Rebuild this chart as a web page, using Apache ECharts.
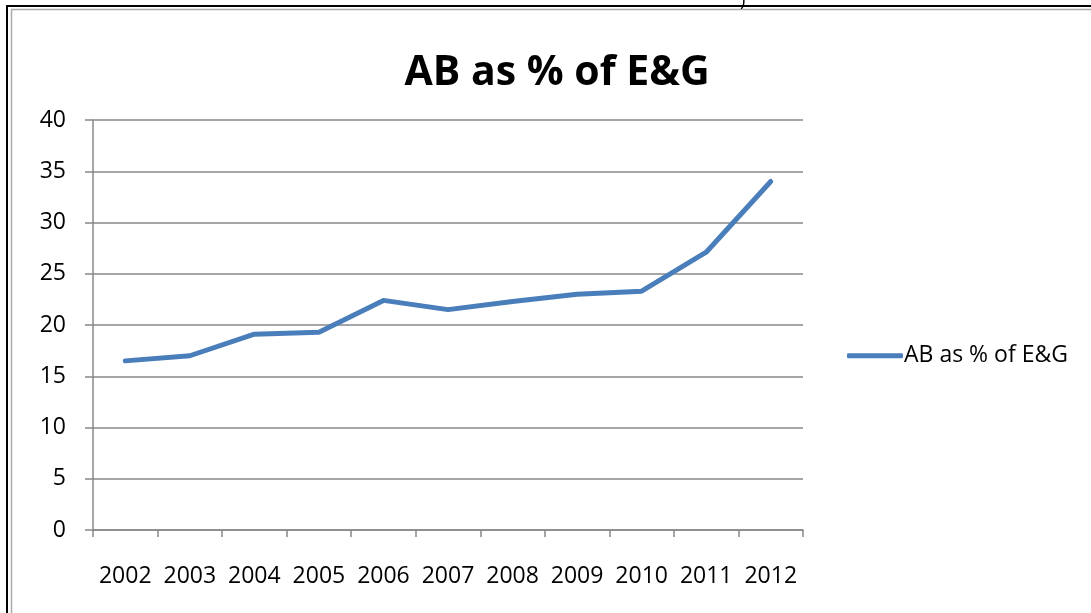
<!DOCTYPE html>
<html>
<head>
    <title>AB as % of E&amp;G</title>
    <script src="https://cdn.jsdelivr.net/npm/echarts@6/dist/echarts.min.js"></script>
    <style>
        html, body { margin: 0; padding: 0; background: #fff; }
        #main { width: 1091px; height: 613px; }
    </style>
</head>
<body>
    <div id="main"></div>

    <script>
        const years = ['2002', '2003', '2004', '2005', '2006', '2007', '2008', '2009', '2010', '2011', '2012'];
        const abPercent = [16.5, 17.0, 19.1, 19.3, 22.4, 21.5, 22.3, 23.0, 23.3, 27.1, 34.0];
        const seriesName = 'AB as % of E&G';

        const font = 'Open Sans, Liberation Sans, sans-serif';

        const chart = echarts.init(document.getElementById('main'));
        chart.setOption({
            animation: false,
            title: {
                text: 'AB as % of E&G',
                left: 552,
                textAlign: 'center',
                top: 30,
                textStyle: { fontFamily: font, fontSize: 41, fontWeight: 'bold', color: '#000' }
            },
            legend: {
                data: [seriesName],
                left: 842,
                top: 332,
                itemWidth: 56,
                itemHeight: 5,
                itemGap: 4,
                icon: 'roundRect',
                textStyle: { fontFamily: font, fontSize: 23, color: '#000', padding: [0, 0, 0, -4] }
            },
            grid: { left: 93, right: 288, top: 120, bottom: 83 },
            xAxis: {
                type: 'category',
                data: years,
                boundaryGap: true,
                axisLine: { lineStyle: { color: '#888', width: 1.5 } },
                axisTick: { show: true, interval: 0, length: 7, alignWithLabel: false, lineStyle: { color: '#888', width: 1.5 } },
                axisLabel: { interval: 0, hideOverlap: false, fontFamily: font, fontSize: 23, color: '#000', margin: 28 }
            },
            yAxis: {
                type: 'value',
                min: 0,
                max: 40,
                interval: 5,
                axisLine: { show: true, lineStyle: { color: '#888', width: 1.5 } },
                axisTick: { show: true, length: 8, lineStyle: { color: '#888', width: 1.5 } },
                axisLabel: { fontFamily: font, fontSize: 23, color: '#000', margin: 27 },
                splitLine: { lineStyle: { color: '#888', width: 1.5 } }
            },
            series: [{
                name: seriesName,
                type: 'line',
                data: abPercent,
                symbol: 'none',
                color: '#4A7EBB',
                lineStyle: { width: 5, color: '#4A7EBB', cap: 'round', join: 'round' }
            }],
            graphic: [
                { type: 'polyline', shape: { points: [[7, 613], [7, 6], [1091, 6]] }, style: { fill: 'none', stroke: '#000', lineWidth: 2 } },
                { type: 'polyline', shape: { points: [[11.5, 613], [11.5, 9.5], [1091, 9.5]] }, style: { fill: 'none', stroke: '#aaa', lineWidth: 1.5 } },
                { type: 'text', left: 740, top: -14, style: { text: ')', fontFamily: font, fontSize: 18, fill: '#000' } }
            ]
        });
    </script>
</body>
</html>
